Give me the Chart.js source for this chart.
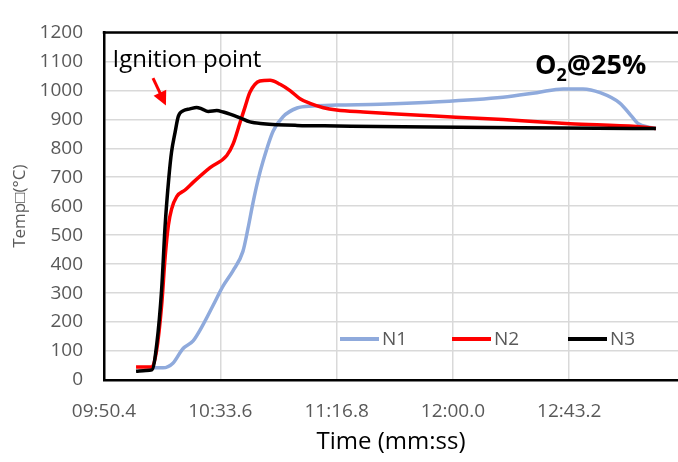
<!DOCTYPE html>
<html>
<head>
<meta charset="utf-8">
<script src="https://cdn.jsdelivr.net/npm/chart.js@4"></script>
<style>
  html, body { margin: 0; padding: 0; background: #fff; }
  #wrap { width: 678px; height: 462px; }
</style>
</head>
<body>
<div id="wrap"><canvas id="chart"></canvas></div>
<script>
// time in seconds (mm*60 + ss), temperatures in °C
const n1Time = [608.6, 612.3, 616.0, 619.7, 623.5, 627.2, 630.9, 634.6, 638.3, 642.0, 643.9, 645.7, 647.6, 649.5, 653.2, 656.9, 662.1, 668.0, 676.9, 692.9, 711.5, 738.6, 751.2, 760.9, 768.3, 774.7, 782.0, 786.5, 788.7, 793.2, 795.4];
const n1Temp = [42, 42, 58, 108, 135, 191, 257, 324, 377, 444, 524, 610, 690, 756, 859, 909, 939, 946, 949, 952, 959, 976, 992, 1005, 1005, 992, 956, 909, 886, 872, 868];

const n2Time = [602.3, 608.2, 609.9, 611.8, 613.1, 614.3, 615.5, 617.4, 620.5, 623.6, 629.8, 636.0, 638.4, 640.9, 642.8, 644.6, 648.3, 652.1, 655.8, 659.5, 663.2, 666.9, 671.9, 676.8, 686.7, 699.1, 711.5, 738.7, 763.5, 788.2, 795.4];
const n2Temp = [45, 45, 100, 257, 423, 533, 590, 633, 656, 683, 733, 775, 816, 888, 943, 993, 1032, 1035, 1021, 999, 971, 955, 940, 932, 925, 918, 912, 899, 885, 875, 868];

const n3Time = [602.3, 606.0, 608.2, 610.0, 611.8, 613.1, 614.5, 615.5, 616.8, 618.0, 619.9, 622.3, 624.8, 626.7, 629.1, 632.3, 634.7, 637.2, 640.9, 644.6, 649.5, 662.1, 676.9, 711.5, 760.0, 795.4];
const n3Temp = [30, 33, 35, 124, 312, 533, 700, 788, 855, 910, 930, 936, 941, 936, 927, 930, 925, 918, 905, 891, 885, 879, 877, 873, 870, 868];

const xTickLabels = ['09:50.4', '10:33.6', '11:16.8', '12:00.0', '12:43.2'];
const seriesNames = ['N1', 'N2', 'N3'];
const seriesColors = ['#8faadc', '#ff0000', '#000000'];

function toSec(str) {
    const p = str.split(':');
    return parseInt(p[0], 10) * 60 + parseFloat(p[1]);
}
const xTickValues = xTickLabels.map(toSec);

function pts(t, v) {
    return t.map((x, i) => ({ x: x, y: v[i] }));
}

const FONT = '"Open Sans", "Liberation Sans", sans-serif';
const GRAY = '#595959';

// frame, legend inside plot, and the two text notes
const extras = {
    id: 'extras',
    afterDraw(chart) {
        const ctx = chart.ctx;
        const a = chart.chartArea;
        const xs = chart.scales.x, ys = chart.scales.y;
        ctx.save();

        // top border of the plot area
        ctx.strokeStyle = '#000';
        ctx.lineWidth = 2.5;
        ctx.beginPath();
        ctx.moveTo(a.left - 1.25, a.top);
        ctx.lineTo(a.right, a.top);
        ctx.stroke();

        // legend
        const legX = [340, 452, 568];
        const legY = 339;
        ctx.font = '19px ' + FONT;
        ctx.textBaseline = 'middle';
        ctx.textAlign = 'left';
        seriesNames.forEach((name, i) => {
            ctx.strokeStyle = seriesColors[i];
            ctx.lineWidth = 4;
            ctx.beginPath();
            ctx.moveTo(legX[i], legY);
            ctx.lineTo(legX[i] + 39, legY);
            ctx.stroke();
            ctx.fillStyle = GRAY;
            ctx.fillText(name, legX[i] + 42, legY + 1);
        });

        // "Ignition point" + arrow
        ctx.fillStyle = '#000';
        ctx.textBaseline = 'alphabetic';
        ctx.textAlign = 'center';
        ctx.font = '24px ' + FONT;
        ctx.fillText('Ignition point', xs.getPixelForValue(621.2), ys.getPixelForValue(1082));

        const x0 = xs.getPixelForValue(608.6), y0 = ys.getPixelForValue(1042);
        const x1 = xs.getPixelForValue(613.4), y1 = ys.getPixelForValue(948);
        const ang = Math.atan2(y1 - y0, x1 - x0);
        ctx.strokeStyle = '#ff0000';
        ctx.fillStyle = '#ff0000';
        ctx.lineWidth = 3;
        ctx.beginPath();
        ctx.moveTo(x0, y0);
        ctx.lineTo(x1 - 10 * Math.cos(ang), y1 - 10 * Math.sin(ang));
        ctx.stroke();
        ctx.beginPath();
        ctx.moveTo(x1, y1);
        ctx.lineTo(x1 - 14 * Math.cos(ang) + 7 * Math.sin(ang), y1 - 14 * Math.sin(ang) - 7 * Math.cos(ang));
        ctx.lineTo(x1 - 14 * Math.cos(ang) - 7 * Math.sin(ang), y1 - 14 * Math.sin(ang) + 7 * Math.cos(ang));
        ctx.closePath();
        ctx.fill();

        // O2@25%
        ctx.fillStyle = '#000';
        ctx.textAlign = 'left';
        let tx = xs.getPixelForValue(750.5);
        const ty = ys.getPixelForValue(1055);
        ctx.font = 'bold 27px ' + FONT;
        ctx.fillText('O', tx, ty);
        tx += ctx.measureText('O').width;
        ctx.font = 'bold 18px ' + FONT;
        ctx.fillText('2', tx, ty + 7);
        tx += ctx.measureText('2').width;
        ctx.font = 'bold 27px ' + FONT;
        ctx.fillText('@25%', tx, ty);

        ctx.restore();
    }
};

const ctx = document.getElementById('chart').getContext('2d');
const datasets = [n1Temp, n2Temp, n3Temp].map((v, i) => ({
    label: seriesNames[i],
    data: pts([n1Time, n2Time, n3Time][i], v),
    borderColor: seriesColors[i],
    backgroundColor: seriesColors[i],
    borderWidth: 3.5,
    pointRadius: 0,
    cubicInterpolationMode: 'monotone',
    order: 3 - i
}));

new Chart(ctx, {
    type: 'line',
    data: { datasets: datasets },
    options: {
        responsive: true,
        maintainAspectRatio: false,
        animation: false,
        layout: { padding: { top: 18, right: 0, bottom: 0, left: 0 } },
        plugins: {
            legend: { display: false },
            tooltip: { enabled: false }
        },
        scales: {
            x: {
                type: 'linear',
                min: 590.4,
                max: 803.6,
                afterBuildTicks: scale => {
                    scale.ticks = xTickValues.map(v => ({ value: v }));
                },
                afterFit: scale => { scale.height = 82; },
                ticks: {
                    color: GRAY,
                    font: { family: FONT, size: 19 },
                    padding: 20,
                    maxRotation: 0,
                    callback: (v, i) => xTickLabels[i]
                },
                grid: { color: '#d9d9d9', lineWidth: 1.5, drawTicks: false },
                border: { display: true, color: '#000', width: 2.5 },
                title: {
                    display: true,
                    text: 'Time (mm:ss)',
                    color: '#000',
                    font: { family: FONT, size: 24 },
                    padding: { top: 0, bottom: 5 }
                }
            },
            y: {
                min: 0,
                max: 1200,
                afterFit: scale => { scale.width = 104; },
                ticks: {
                    stepSize: 100,
                    color: GRAY,
                    font: { family: FONT, size: 19 },
                    padding: 21,
                    callback: v => String(v)
                },
                grid: { color: '#d9d9d9', lineWidth: 1.5, drawTicks: false },
                border: { display: true, color: '#000', width: 2.5 },
                title: {
                    display: true,
                    text: 'Temp□(°C)',
                    color: GRAY,
                    font: { family: FONT, size: 17 },
                    padding: { top: 10, bottom: 0 }
                }
            }
        }
    },
    plugins: [extras]
});
</script>
</body>
</html>
